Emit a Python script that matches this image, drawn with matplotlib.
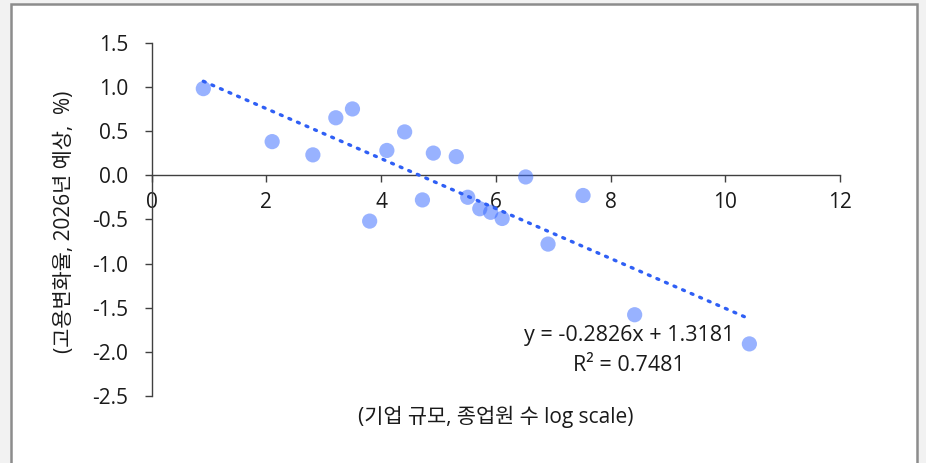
import matplotlib
matplotlib.use("Agg")
import matplotlib.pyplot as plt
from matplotlib.patches import Rectangle
import numpy as np

plt.rcParams['font.family'] = ['Open Sans', 'Noto Sans CJK KR', 'DejaVu Sans']

# Firm size (log employees) vs. expected 2026 employment change (%)
firm_size = [0.90, 2.10, 2.81, 3.21, 3.50, 3.80, 4.10, 4.41, 4.72, 4.91,
             5.31, 5.51, 5.72, 5.91, 6.11, 6.52, 6.91, 7.52, 8.42, 10.42]
emp_change = [0.98, 0.38, 0.23, 0.65, 0.75, -0.52, 0.28, 0.49, -0.28, 0.25,
              0.21, -0.25, -0.38, -0.42, -0.49, -0.02, -0.78, -0.23, -1.58, -1.91]

slope = -0.2826
intercept = 1.3181
r_squared = 0.7481

x_ticks = [0, 2, 4, 6, 8, 10, 12]
y_ticks = [1.5, 1.0, 0.5, 0.0, -0.5, -1.0, -1.5, -2.0, -2.5]

fig = plt.figure(figsize=(9.26, 4.63), dpi=100)
fig.patch.set_facecolor('#f2f2f2')

W, H = 926, 463
# white panel with grey frame
panel = Rectangle((11 / W, -0.05), (917 - 11) / W, (463 - 4) / H + 0.05,
                  transform=fig.transFigure, facecolor='white',
                  edgecolor='#8c8c8c', linewidth=1.8, zorder=-5)
fig.patches.append(panel)

ax = fig.add_axes([151.7 / W, 1 - 396 / H, (840 - 151.7) / W, (396 - 42.7) / H])
ax.set_zorder(2)
ax.set_facecolor('none')

ax.scatter(firm_size, emp_change, s=120, color='#3366ff', alpha=0.5,
           edgecolors='none', zorder=3)

xs = np.array([min(firm_size), max(firm_size)])
ax.plot(xs, slope * xs + intercept, color='#2f5ff5', linewidth=2.4,
        linestyle=(0, (0.6, 2.2)), dash_capstyle='round', zorder=4)

ax.set_xlim(0, 12)
ax.set_ylim(-2.5, 1.5)
ax.set_xticks(x_ticks)
ax.set_xticklabels([str(v) for v in x_ticks])
ax.set_yticks(y_ticks)
ax.set_yticklabels([f"{v:.1f}" for v in y_ticks])

for side in ['top', 'right']:
    ax.spines[side].set_visible(False)
ax.spines['bottom'].set_position(('data', 0))
for side in ['left', 'bottom']:
    ax.spines[side].set_color('#404040')
    ax.spines[side].set_linewidth(1.0)

ax.tick_params(axis='both', direction='out', length=5, width=1.0,
               color='#404040', labelsize=15, labelcolor='#1a1a1a')
ax.tick_params(axis='x', pad=7)
ax.tick_params(axis='y', pad=12)

ax.text(8.32, -1.81, f"y = {slope:.4f}x + {intercept:.4f}", ha='center',
        va='center', fontsize=15.5, color='#1a1a1a')
ax.text(8.32, -2.15, f"R² = {r_squared:.4f}", ha='center', va='center',
        fontsize=15.5, color='#1a1a1a')

fig.text(65 / W, 1 - 222 / H, "(고용변화율, 2026년 예상,  %)", rotation=90,
         ha='center', va='center', fontsize=15, color='#1a1a1a')
fig.text(496 / W, 1 - 417 / H, "(기업 규모, 종업원 수 log scale)",
         ha='center', va='center', fontsize=15, color='#1a1a1a')

fig.savefig("out.png", dpi=100, facecolor=fig.get_facecolor())
